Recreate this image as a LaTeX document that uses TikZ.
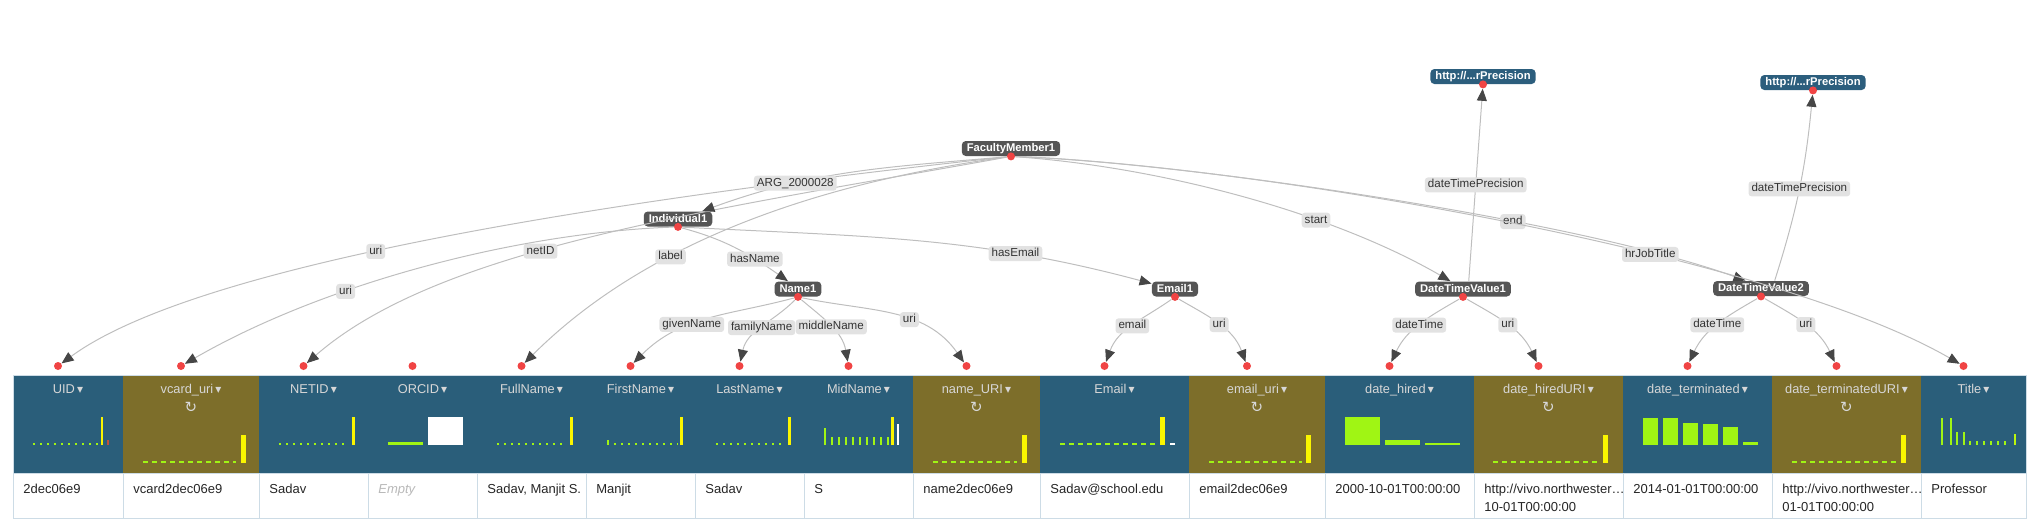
\documentclass[tikz,border=0pt]{standalone}
\usepackage{fontspec}
\setmainfont{Liberation Sans}
\newfontfamily\symfont{DejaVu Sans}
\usepackage{tikz}
\usetikzlibrary{arrows.meta}

\definecolor{hblue}{RGB}{42,94,122}
\definecolor{holive}{RGB}{125,110,42}
\definecolor{htextgray}{RGB}{215,215,215}
\definecolor{nodegray}{RGB}{85,85,85}
\definecolor{precblue}{RGB}{44,94,125}
\definecolor{dotred}{RGB}{240,68,68}
\definecolor{labelgray}{RGB}{226,226,226}
\definecolor{edgegray}{RGB}{190,190,190}
\definecolor{arrowgray}{RGB}{70,70,70}
\definecolor{sparklime}{RGB}{160,245,20}
\definecolor{sparkyellow}{RGB}{250,245,0}
\definecolor{sparkred}{RGB}{190,80,60}
\definecolor{cellline}{RGB}{205,220,230}
\definecolor{emptygray}{RGB}{185,185,185}

\newcommand{\hcaret}{{\symfont\fontsize{6}{7}\selectfont ▾}}
\newcommand{\emptycell}{{\color{emptygray}\itshape Empty}}

\begin{document}
\begin{tikzpicture}[x=0.5pt,y=-0.5pt,
  htext/.style={text=htextgray,font=\fontsize{6.4}{7.5}\selectfont,inner sep=0pt,anchor=base},
  dtext/.style={text=black!85,font=\fontsize{6.5}{9}\selectfont,inner sep=0pt,anchor=north west,align=left},
  reload/.style={text=htextgray,font=\symfont\fontsize{7.5}{8.5}\selectfont,inner sep=0pt},
  cdot/.style={circle,fill=dotred,inner sep=0pt,minimum size=4pt},
  gnode/.style={fill=nodegray,rounded corners=2pt,text=white,font=\bfseries\fontsize{5.6}{6.5}\selectfont,
    inner xsep=2.5pt,inner ysep=0pt,minimum height=7.5pt,text height=4.1pt,text depth=1.1pt},
  pnode/.style={gnode,fill=precblue},
  elabel/.style={fill=labelgray,rounded corners=1.5pt,text=black!80,font=\fontsize{5.8}{6.5}\selectfont,
    inner xsep=1.5pt,inner ysep=0pt,minimum height=7.5pt,text height=4.1pt,text depth=1.1pt},
  edge/.style={draw=edgegray,line width=0.5pt,-{Triangle[length=6pt,width=5pt,color=arrowgray]}},
  spdot/.style={draw=sparklime,line width=1pt,dash pattern=on 1pt off 2.5pt},
  spdash/.style={draw=sparklime,line width=1pt,dash pattern=on 2.5pt off 2pt}]
  \useasboundingbox (0,0) rectangle (2031,521);

  \fill[white] (13,473) rectangle (2026,518);
  \foreach \lx/\rx/\nm/\hd/\val/\hc in {
    13/123/uid/UID/2dec06e9/hblue,
    123/259/vcarduri/vcard\_uri/vcard2dec06e9/holive,
    259/368/netid/NETID/Sadav/hblue,
    368/477/orcid/ORCID/\emptycell/hblue,
    477/586/fullname/FullName/{Sadav, Manjit S.}/hblue,
    586/695/firstname/FirstName/Manjit/hblue,
    695/804/lastname/LastName/Sadav/hblue,
    804/913/midname/MidName/S/hblue,
    913/1040/nameuri/name\_URI/name2dec06e9/holive,
    1040/1189/email/Email/Sadav@school.edu/hblue,
    1189/1325/emailuri/email\_uri/email2dec06e9/holive,
    1325/1474/datehired/date\_hired/2000-10-01T00:00:00/hblue,
    1474/1623/datehireduri/date\_hiredURI/{http://vivo.northwester…\\10-01T00:00:00}/holive,
    1623/1772/dateterm/date\_terminated/2014-01-01T00:00:00/hblue,
    1772/1921/datetermuri/date\_terminatedURI/{http://vivo.northwester…\\01-01T00:00:00}/holive,
    1921/2026/title/Title/Professor/hblue}
  {
    \fill[\hc] (\lx,375) rectangle (\rx,473);
    \draw[black!80,line width=0.5pt] (\rx,375) -- (\rx,473);
    \draw[cellline] (\rx,473) -- (\rx,518);
    \node[htext] (h-\nm) at ({(\lx+\rx)/2},393) {\hd\,\hcaret};
    \node[dtext] (v-\nm) at (\lx+10,484) {\val};
    \node[cdot] (\nm) at ({(\lx+\rx)/2-10},366) {};
  }
  \draw[cellline] (13,375) rectangle (2026,518);
  \draw[cellline] (13,473) -- (2026,473);
  \foreach \x/\nm in {191/vcarduri,976.5/nameuri,1257/emailuri,1548.5/datehireduri,1846.5/datetermuri}
    \node[reload] (r-\nm) at (\x,407) {↻};

  % sparklines
  \draw[spdot] (33,444) -- (100,444);
  \fill[sparkyellow] (101,417) rectangle (103,445);
  \fill[sparkred] (107,440) rectangle (109,445);
  \draw[spdash] (143,462) -- (236,462);
  \fill[sparkyellow] (241,435) rectangle (246,463);
  \draw[spdot] (279,444) -- (348,444);
  \fill[sparkyellow] (352,417) rectangle (355,445);
  \draw[sparklime,line width=1.5pt] (388,443.5) -- (423,443.5);
  \fill[white] (428,417) rectangle (463,445);
  \draw[spdot] (497,444) -- (566,444);
  \fill[sparkyellow] (570,417) rectangle (573,445);
  \fill[sparklime] (607,440) rectangle (609,445);
  \draw[spdot] (614,444) -- (678,444);
  \fill[sparkyellow] (680,417) rectangle (683,445);
  \draw[spdot] (716,444) -- (784,444);
  \fill[sparkyellow] (788,417) rectangle (791,445);
  \fill[sparklime] (824,428) rectangle (826,445);
  \foreach \x in {831,838,...,887}
    \fill[sparklime] (\x,437) rectangle (\x+2,445);
  \fill[sparkyellow] (891,417) rectangle (894,445);
  \fill[white] (897,424) rectangle (899,445);
  \draw[spdash] (933,462) -- (1017,462);
  \fill[sparkyellow] (1022,435) rectangle (1027,463);
  \draw[spdash] (1060,444) -- (1157,444);
  \fill[sparkyellow] (1160,417) rectangle (1165,445);
  \draw[white,line width=1pt] (1170,444) -- (1175,444);
  \draw[spdash] (1209,462) -- (1302,462);
  \fill[sparkyellow] (1306,435) rectangle (1311,463);
  \fill[sparklime] (1345,417) rectangle (1380,445);
  \fill[sparklime] (1385,440) rectangle (1420,445);
  \fill[sparklime] (1425,443) rectangle (1460,445);
  \draw[spdash] (1493,462) -- (1598,462);
  \fill[sparkyellow] (1603,435) rectangle (1608,463);
  \foreach \x/\y in {1643/418,1663/418,1683/423,1703/424,1723/427,1743/442}
    \fill[sparklime] (\x,\y) rectangle (\x+15,445);
  \draw[spdash] (1792,462) -- (1896,462);
  \fill[sparkyellow] (1901,435) rectangle (1906,463);
  \foreach \x/\y in {1941/418,1950/418,1956/432,1963/432,1969/441,1976/441,1983/441,1990/441,1997/441,2004/441}
    \fill[sparklime] (\x,\y) rectangle (\x+2,445);
  \fill[sparklime!70!sparkyellow] (2014,434) rectangle (2016,445);

  % graph
  \node[gnode] (fm) at (1011,148.5) {FacultyMember1};
  \node[gnode] (ind) at (678,219) {Individual1};
  \node[gnode] (nm) at (798,289) {Name1};
  \node[gnode] (em) at (1175,289) {Email1};
  \node[gnode] (dtv1) at (1463,289) {DateTimeValue1};
  \node[gnode] (dtv2) at (1761,288.5) {DateTimeValue2};
  \node[pnode] (prec1) at (1483,76.5) {http://...rPrecision};
  \node[pnode] (prec2) at (1813,82.5) {http://...rPrecision};
  \foreach \g in {fm,ind,nm,em,dtv1,dtv2,prec1,prec2}
    \node[cdot] (\g-o) at (\g.south) {};

  \draw[edge] (fm-o) .. controls (560,205) and (189,270) .. node[elabel,pos=.54] {uri} (uid);
  \draw[edge] (fm-o) .. controls (714,210) and (441,246) .. node[elabel,pos=.58] {netID} (netid);
  \draw[edge] (fm-o) .. controls (832,181) and (652,236) .. node[elabel,pos=.66] {label} (fullname);
  \draw[edge] (fm-o) to[out=185,in=20] node[elabel,pos=.7] {ARG\_2000028} (ind.18);
  \draw[edge] (fm-o) to[out=-4,in=150,looseness=.8] node[elabel,pos=.67] {start} (dtv1.148);
  \draw[edge] (fm-o) to[out=-2,in=160,looseness=.6] node[elabel,pos=.655] {end} (dtv2.153);
  \draw[edge] (fm-o) to[out=-2,in=150,looseness=.6] node[elabel,pos=.64] {hrJobTitle} (title);
  \draw[edge] (ind-o) to[out=182,in=30,looseness=.8] node[elabel,pos=.65] {uri} (vcarduri);
  \draw[edge] (ind-o) to[out=-15,in=145] node[elabel,pos=.68] {hasName} (nm.142);
  \draw[edge] (ind-o) to[out=-3,in=165] node[elabel,pos=.72] {hasEmail} (em.167);
  \draw[edge] (nm-o) to[out=195,in=45] node[elabel,pos=.6] {givenName} (firstname);
  \draw[edge] (nm-o) to[out=225,in=78] node[elabel] {familyName} (lastname);
  \draw[edge] (nm-o) to[out=320,in=100] node[elabel] {middleName} (midname);
  \draw[edge] (nm-o) to[out=-12,in=125] node[elabel,pos=.6] {uri} (nameuri);
  \draw[edge] (em-o) to[out=215,in=70] node[elabel] {email} (email);
  \draw[edge] (em-o) to[out=-30,in=110] node[elabel] {uri} (emailuri);
  \draw[edge] (dtv1-o) to[out=210,in=65] node[elabel] {dateTime} (datehired);
  \draw[edge] (dtv1-o) to[out=-30,in=115] node[elabel] {uri} (datehireduri);
  \draw[edge] (dtv2-o) to[out=210,in=65] node[elabel] {dateTime} (dateterm);
  \draw[edge] (dtv2-o) to[out=-30,in=115] node[elabel] {uri} (datetermuri);
  \draw[edge] (dtv1.54) -- node[elabel] {dateTimePrecision} (prec1-o);
  \draw[edge] (dtv2.30) to[bend right=6] node[elabel] {dateTimePrecision} (prec2-o);
\end{tikzpicture}
\end{document}
